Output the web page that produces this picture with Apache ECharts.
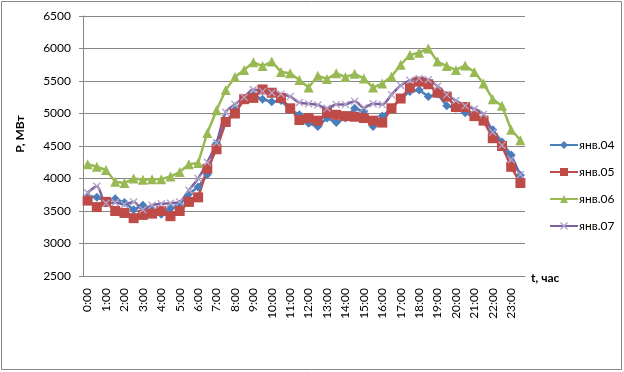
<!DOCTYPE html>
<html>
<head>
<meta charset="utf-8">
<script src="https://cdn.jsdelivr.net/npm/echarts@6/dist/echarts.min.js"></script>
<style>html,body{margin:0;padding:0;background:#fff}#c{width:624px;height:372px}</style>
</head>
<body>
<div id="c"></div>
<script>
const times = ["0:00","0:30","1:00","1:30","2:00","2:30","3:00","3:30","4:00","4:30","5:00","5:30",
"6:00","6:30","7:00","7:30","8:00","8:30","9:00","9:30","10:00","10:30","11:00","11:30",
"12:00","12:30","13:00","13:30","14:00","14:30","15:00","15:30","16:00","16:30","17:00","17:30",
"18:00","18:30","19:00","19:30","20:00","20:30","21:00","21:30","22:00","22:30","23:00","23:30"];
const jan04 = [3730,3710,3650,3690,3630,3520,3590,3520,3450,3540,3600,3760,
3870,4060,4540,4860,5050,5210,5280,5220,5180,5200,5060,4980,
4850,4800,4930,4860,4930,5080,5030,4800,4960,5080,5230,5340,
5360,5260,5300,5120,5080,5010,4950,4900,4750,4560,4360,4050];
const jan05 = [3660,3560,3640,3500,3470,3390,3440,3460,3500,3420,3500,3640,
3710,4150,4450,4870,5000,5220,5240,5370,5320,5240,5080,4900,
4930,4890,5010,4980,4960,4950,4930,4890,4860,5080,5230,5400,
5490,5450,5320,5260,5100,5100,4960,4890,4620,4500,4180,3930];
const jan06 = [4220,4180,4130,3950,3930,4000,3980,3990,3990,4030,4100,4220,
4240,4700,5050,5360,5560,5670,5790,5730,5800,5640,5620,5515,
5400,5580,5530,5620,5560,5610,5540,5400,5460,5570,5750,5900,
5935,6000,5800,5730,5670,5740,5640,5460,5220,5120,4750,4590];
const jan07 = [3780,3880,3620,3630,3600,3640,3520,3590,3610,3620,3640,3820,
4000,4250,4550,5020,5140,5250,5370,5340,5320,5300,5260,5170,
5150,5130,5080,5140,5140,5190,5090,5150,5140,5290,5430,5510,
5540,5520,5420,5290,5200,5120,5070,4990,4710,4510,4290,4060];
const seriesNames = ["янв.04","янв.05","янв.06","янв.07"];
const yTicks = {min: 2500, max: 6500, step: 500};

const font = "Lato, 'Open Sans', sans-serif";
const xShape = 'path://M0,1.2L1.2,0L5,3.8L8.8,0L10,1.2L6.2,5L10,8.8L8.8,10L5,6.2L1.2,10L0,8.8L3.8,5Z';
const chart = echarts.init(document.getElementById('c'), null, {renderer: 'canvas'});
chart.setOption({
  animation: false,
  backgroundColor: '#fff',
  grid: {left: 83, right: 99, top: 16, bottom: 96, containLabel: false},
  legend: {
    orient: 'vertical', left: 544, top: 134, itemGap: 15,
    itemWidth: 28, itemHeight: 10,
    textStyle: {fontFamily: font, fontSize: 12, color: '#000', padding: [0,0,0,-4]},
    data: seriesNames
  },
  xAxis: {
    type: 'category', data: times, boundaryGap: true,
    axisLine: {lineStyle: {color: '#868686', width: 1}},
    axisTick: {show: false},
    axisLabel: {interval: 1, rotate: 90, margin: 12, fontFamily: font, fontSize: 12, color: '#000'},
    splitLine: {show: false}
  },
  yAxis: {
    type: 'value', min: yTicks.min, max: yTicks.max, interval: yTicks.step,
    axisLine: {show: true, lineStyle: {color: '#868686'}},
    axisTick: {show: true, length: 4, lineStyle: {color: '#868686'}},
    axisLabel: {margin: 12, fontFamily: font, fontSize: 12, color: '#000', formatter: v => String(v)},
    splitLine: {lineStyle: {color: '#868686', width: 1}}
  },
  graphic: [
    {type: 'rect', shape: {x: 1.5, y: 1.5, width: 620, height: 368}, style: {fill: null, stroke: '#888', lineWidth: 1}, silent: true, z: 100},
    {type: 'text', x: 20, y: 134, rotation: Math.PI/2, style: {text: 'P, МВт', font: "bold 12px " + font, fill: '#000', textAlign: 'center', textVerticalAlign: 'middle'}},
    {type: 'text', x: 531, y: 278, style: {text: 't, час', font: "bold 12px " + font, fill: '#000', textAlign: 'left', textVerticalAlign: 'middle'}}
  ],
  series: [
    {name: seriesNames[0], type: 'line', data: jan04, symbol: 'diamond', symbolSize: 9, showAllSymbol: true,
     lineStyle: {color: '#4A7EBB', width: 2.5}, itemStyle: {color: '#4A7EBB'}},
    {name: seriesNames[1], type: 'line', data: jan05, symbol: 'rect', symbolSize: 10, showAllSymbol: true,
     lineStyle: {color: '#BE4B48', width: 2.5}, itemStyle: {color: '#BE4B48'}},
    {name: seriesNames[2], type: 'line', data: jan06, symbol: 'triangle', symbolSize: 10, showAllSymbol: true,
     lineStyle: {color: '#98B954', width: 2.5}, itemStyle: {color: '#98B954'}},
    {name: seriesNames[3], type: 'line', data: jan07, symbol: xShape, symbolSize: 8, smooth: 0.3, showAllSymbol: true,
     lineStyle: {color: '#7D60A0', width: 2.5}, itemStyle: {color: '#B3A2C7'}}
  ]
});
</script>
</body>
</html>
